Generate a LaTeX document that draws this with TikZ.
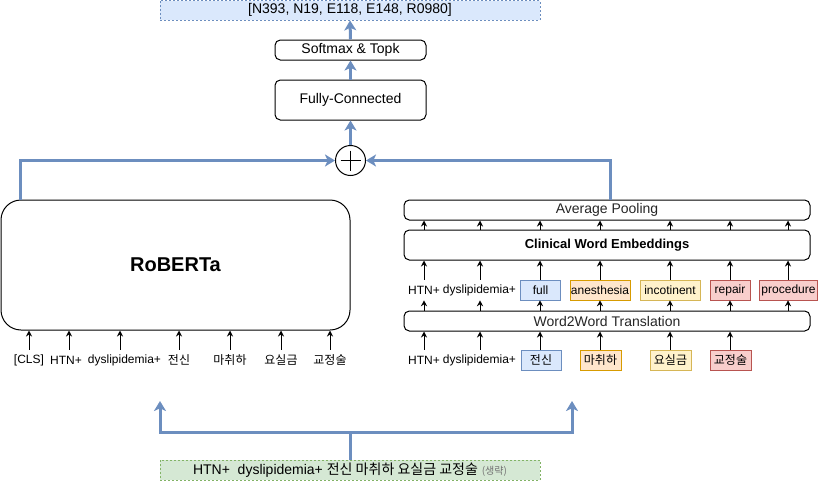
\documentclass[tikz,border=0pt]{standalone}
\usepackage{fontspec}
\setmainfont{Liberation Sans}
\newfontfamily\kr{Noto Sans CJK KR}
\usetikzlibrary{arrows.meta}
\definecolor{bluef}{HTML}{DAE8FC}\definecolor{blued}{HTML}{6C8EBF}
\definecolor{orf}{HTML}{FFE6CC}\definecolor{ord}{HTML}{D79B00}
\definecolor{yef}{HTML}{FFF2CC}\definecolor{yed}{HTML}{D6B656}
\definecolor{ref}{HTML}{F8CECC}\definecolor{red2}{HTML}{B85450}
\definecolor{grf}{HTML}{D5E8D4}\definecolor{grd}{HTML}{82B366}
\newcommand{\fsS}{\fontsize{9pt}{10pt}\selectfont}
\newcommand{\fsM}{\fontsize{10.5pt}{12pt}\selectfont}
\newcommand{\fsL}{\fontsize{15pt}{17pt}\selectfont}
\begin{document}
\begin{tikzpicture}[x=0.75pt,y=-0.75pt,
  box/.style={draw, line width=0.75pt, rounded corners=4pt, inner sep=0pt, font=\fsM},
  lbl/.style={inner sep=0pt, minimum height=15pt, font=\fsS},
  wbox/.style={draw, line width=0.75pt, inner sep=0pt, minimum height=15pt, font=\fsS},
  wblue/.style={wbox, fill=bluef, draw=blued},
  wor/.style={wbox, fill=orf, draw=ord},
  wye/.style={wbox, fill=yef, draw=yed},
  wre/.style={wbox, fill=ref, draw=red2},
  sarr/.style={-{Stealth[length=4.5pt,width=4.5pt]}, line width=0.75pt},
  barr/.style={-{Stealth[length=7.5pt,width=9pt,inset=2pt]}, line width=2.25pt, draw=blued},
  bline/.style={line width=2.25pt, draw=blued}
]
\useasboundingbox (0,0) rectangle (818,482);

% top output
\node[draw=blued, fill=bluef, dashed, dash pattern=on 1.5pt off 1.5pt, line width=0.6pt,
  minimum width=285pt, minimum height=14.6pt, inner sep=0pt, font=\fsM] (out) at (350,10.3) {[N393, N19, E118, E148, R0980]};
\node[box, minimum width=113.25pt, minimum height=15pt] (smx) at (350.5,50) {Softmax \& Topk};
\node[box, minimum width=113.25pt, minimum height=30pt] (fc) at (350.5,100) {Fully-Connected};
\node[draw, circle, line width=0.75pt, minimum size=22.5pt, inner sep=0pt] (plus) at (350.5,160.5) {};
\draw[line width=0.75pt] (plus.center) ++(-10,0) -- ++(20,0);
\draw[line width=0.75pt] (plus.center) ++(0,-10) -- ++(0,20);

% RoBERTa
\node[draw, line width=0.75pt, rounded corners=15pt, minimum width=261.75pt, minimum height=97.5pt,
  inner sep=0pt, font=\fsL\bfseries] (rob) at (175.5,265) {RoBERTa};

% left inputs
\node[lbl] (l1) at (29,360) {[CLS]};
\node[lbl] (l2) at (66,360) {HTN+};
\node[lbl] (l3) at (124.5,360) {dyslipidemia+};
\node[lbl] (l4) at (179,360) {\kr 전신};
\node[lbl] (l5) at (230,360) {\kr 마취하};
\node[lbl] (l6) at (281,360) {\kr 요실금};
\node[lbl] (l7) at (330,360) {\kr 교정술};
\foreach \n/\x in {l1/29,l2/69,l3/120,l4/179,l5/230,l6/281,l7/330}
  \draw[sarr] (\x,0 |- \n.north) -- (\x,0 |- rob.south);

% right side
\node[box, minimum width=304.5pt, minimum height=15pt, text=black!85] (avg) at (607,210) {Average Pooling};
\node[box, minimum width=304.5pt, minimum height=22.5pt, font=\fontsize{9.75pt}{11pt}\selectfont\bfseries] (cwe) at (607,245) {Clinical Word Embeddings};
\node[box, minimum width=304.5pt, minimum height=15pt, text=black!85] (w2w) at (607,321) {Word2Word Translation};

% row 1
\node[lbl] (a1) at (424,290) {HTN+};
\node[lbl] (a2) at (479.5,290) {dyslipidemia+};
\node[wblue, minimum width=30.5pt] (a3) at (540.5,290) {full};
\node[wor, minimum width=45pt] (a4) at (600,290) {anesthesia};
\node[wye, minimum width=45pt] (a5) at (670,290) {incotinent};
\node[wre, minimum width=30pt] (a6) at (730,290) {repair};
\node[wre, minimum width=43pt] (a7) at (788.5,290) {procedure};

% row 2
\node[lbl] (b1) at (424,360) {HTN+};
\node[lbl] (b2) at (479.5,360) {dyslipidemia+};
\node[wblue, minimum width=30pt] (b3) at (541,360) {\kr 전신};
\node[wor, minimum width=30.75pt] (b4) at (600.5,360) {\kr 마취하};
\node[wye, minimum width=30.75pt] (b5) at (670.5,360) {\kr 요실금};
\node[wre, minimum width=30.75pt] (b6) at (730.5,360) {\kr 교정술};

\foreach \x in {424,480,540,600,670,730,788}{
  \draw[sarr] (\x,220 |- cwe.north) -- (\x,220 |- avg.south);
  \draw[sarr] (\x,220 |- a1.north) -- (\x,220 |- cwe.south);
  \draw[sarr] (\x,220 |- w2w.north) -- (\x,220 |- a1.south);
}
\foreach \n/\x in {b1/424,b2/480,b3/540,b4/600,b5/670,b6/730}
  \draw[sarr] (\x,220 |- \n.north) -- (\x,220 |- w2w.south);

% bottom input
\node[draw=grd, fill=grf, dashed, dash pattern=on 1.5pt off 1.5pt, line width=0.6pt,
  minimum width=285pt, minimum height=15pt, inner sep=0pt, font=\fontsize{10.5pt}{12pt}\selectfont] (inp) at (350,470)
  {HTN+\ \ dyslipidemia+ {\kr 전신 마취하 요실금 교정술} {\kr\fontsize{7.5pt}{8pt}\selectfont\color{black!55}(생략)}};

% blue connectors
\draw[barr] ([xshift=15pt]rob.north west) |- (plus.west);
\draw[barr] ([xshift=2.25pt]avg.north) |- (plus.east);
\draw[barr] (plus.north) -- (fc.south);
\draw[barr] (fc.north) -- (smx.south);
\draw[barr] (smx.north) -- (out.south);
\coordinate (bj) at (350,432);
\coordinate (bl) at (160,401);
\coordinate (br) at (572,401);
\draw[bline] (inp.north) -- (bj);
\draw[barr] (bj) -| (bl);
\draw[barr] (bj) -| (br);
\end{tikzpicture}
\end{document}
